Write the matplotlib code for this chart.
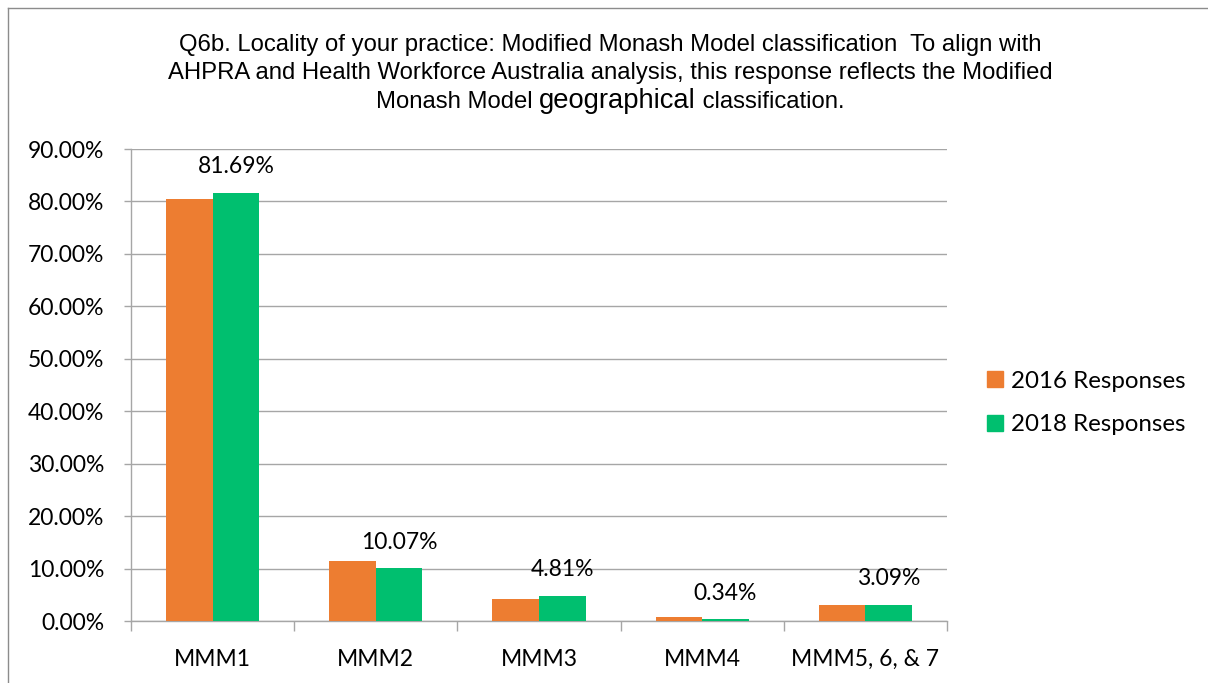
import matplotlib
matplotlib.use('Agg')
import matplotlib.pyplot as plt
from matplotlib.lines import Line2D
from matplotlib.ticker import FuncFormatter
import numpy as np

# data
categories = ['MMM1', 'MMM2', 'MMM3', 'MMM4', 'MMM5, 6, & 7']
resp_2016 = [80.5, 11.35, 4.2, 0.75, 3.0]
resp_2018 = [81.69, 10.07, 4.81, 0.34, 3.09]
labels_2018 = ['81.69%', '10.07%', '4.81%', '0.34%', '3.09%']

c2016 = '#ED7D31'
c2018 = '#00BF6F'
grid_c = '#A6A6A6'
body_font = ['Lato', 'DejaVu Sans']
title_font = ['Liberation Sans', 'DejaVu Sans']
fsize = 16.5

W, H = 1208, 683
fig = plt.figure(figsize=(W / 100, H / 100), dpi=100)
ax = fig.add_axes([131 / W, 1 - 621 / H, (947 - 131) / W, (621 - 149) / H])

x = np.arange(len(categories))
bw = 0.286
ax.bar(x - bw / 2, resp_2016, bw, color=c2016, label='2016 Responses', zorder=3)
ax.bar(x + bw / 2, resp_2018, bw, color=c2018, label='2018 Responses', zorder=3)

for xi, v, lab in zip(x, resp_2018, labels_2018):
    ax.annotate(lab, (xi + bw / 2, v), xytext=(0, 26), textcoords='offset pixels',
                ha='center', va='center', fontsize=fsize, family=body_font)

ax.set_xlim(-0.5, len(categories) - 0.5)
ax.set_ylim(0, 90)
ax.set_yticks(np.arange(0, 91, 10))
ax.yaxis.set_major_formatter(FuncFormatter(lambda v, p: '%.2f%%' % v))
ax.grid(axis='y', color=grid_c, linewidth=1, zorder=0)
ax.set_xticks(x)
ax.set_xticklabels(categories)
ax.set_xticks(np.arange(-0.5, len(categories)), minor=True)
ax.tick_params(axis='x', which='major', length=0, pad=20)
ax.tick_params(axis='x', which='minor', length=7, color=grid_c, width=1)
ax.tick_params(axis='y', length=5.3, color=grid_c, width=1, pad=14)
for t in ax.get_xticklabels() + ax.get_yticklabels():
    t.set_fontsize(fsize)
    t.set_family(body_font)
for s in ['top', 'right']:
    ax.spines[s].set_visible(False)
for s in ['left', 'bottom']:
    ax.spines[s].set_color(grid_c)
    ax.spines[s].set_linewidth(1)

handles = [Line2D([], [], marker='s', linestyle='', markersize=11, color=c) for c in (c2016, c2018)]
fig.legend(handles, ['2016 Responses', '2018 Responses'], loc='center left',
           bbox_to_anchor=(959 / W, 1 - 403 / H), frameon=False, handletextpad=0.05,
           labelspacing=0.95, prop={'family': body_font, 'size': 17.4}, handlelength=1.2)

# title, three lines, "geographical" larger
tsize = 17.2
cx = 610 / W
fig.text(cx, 1 - 45 / H, 'Q6b. Locality of your practice: Modified Monash Model classification  To align with',
         ha='center', va='center', fontsize=tsize, family=title_font)
fig.text(cx, 1 - 73 / H, 'AHPRA and Health Workforce Australia analysis, this response reflects the Modified',
         ha='center', va='center', fontsize=tsize, family=title_font)
parts = [('Monash Model ', tsize), ('geographical', tsize + 2.5), (' classification.', tsize)]
fig.canvas.draw()
r = fig.canvas.get_renderer()
objs = []
for s, fs in parts:
    objs.append(fig.text(0, 0, s, ha='left', va='baseline', fontsize=fs, family=title_font))
widths = [o.get_window_extent(r).width / W for o in objs]
start = cx - sum(widths) / 2
for o, w in zip(objs, widths):
    o.set_x(start)
    o.set_y(1 - 108 / H)
    start += w

# outer border (only top and left visible in reference)
fig.add_artist(Line2D([8 / W, 8 / W], [0, 1 - 8 / H], color='#8C8C8C', linewidth=1))
fig.add_artist(Line2D([8 / W, 1], [1 - 8 / H, 1 - 8 / H], color='#8C8C8C', linewidth=1))

fig.savefig('out.png', dpi=100)
